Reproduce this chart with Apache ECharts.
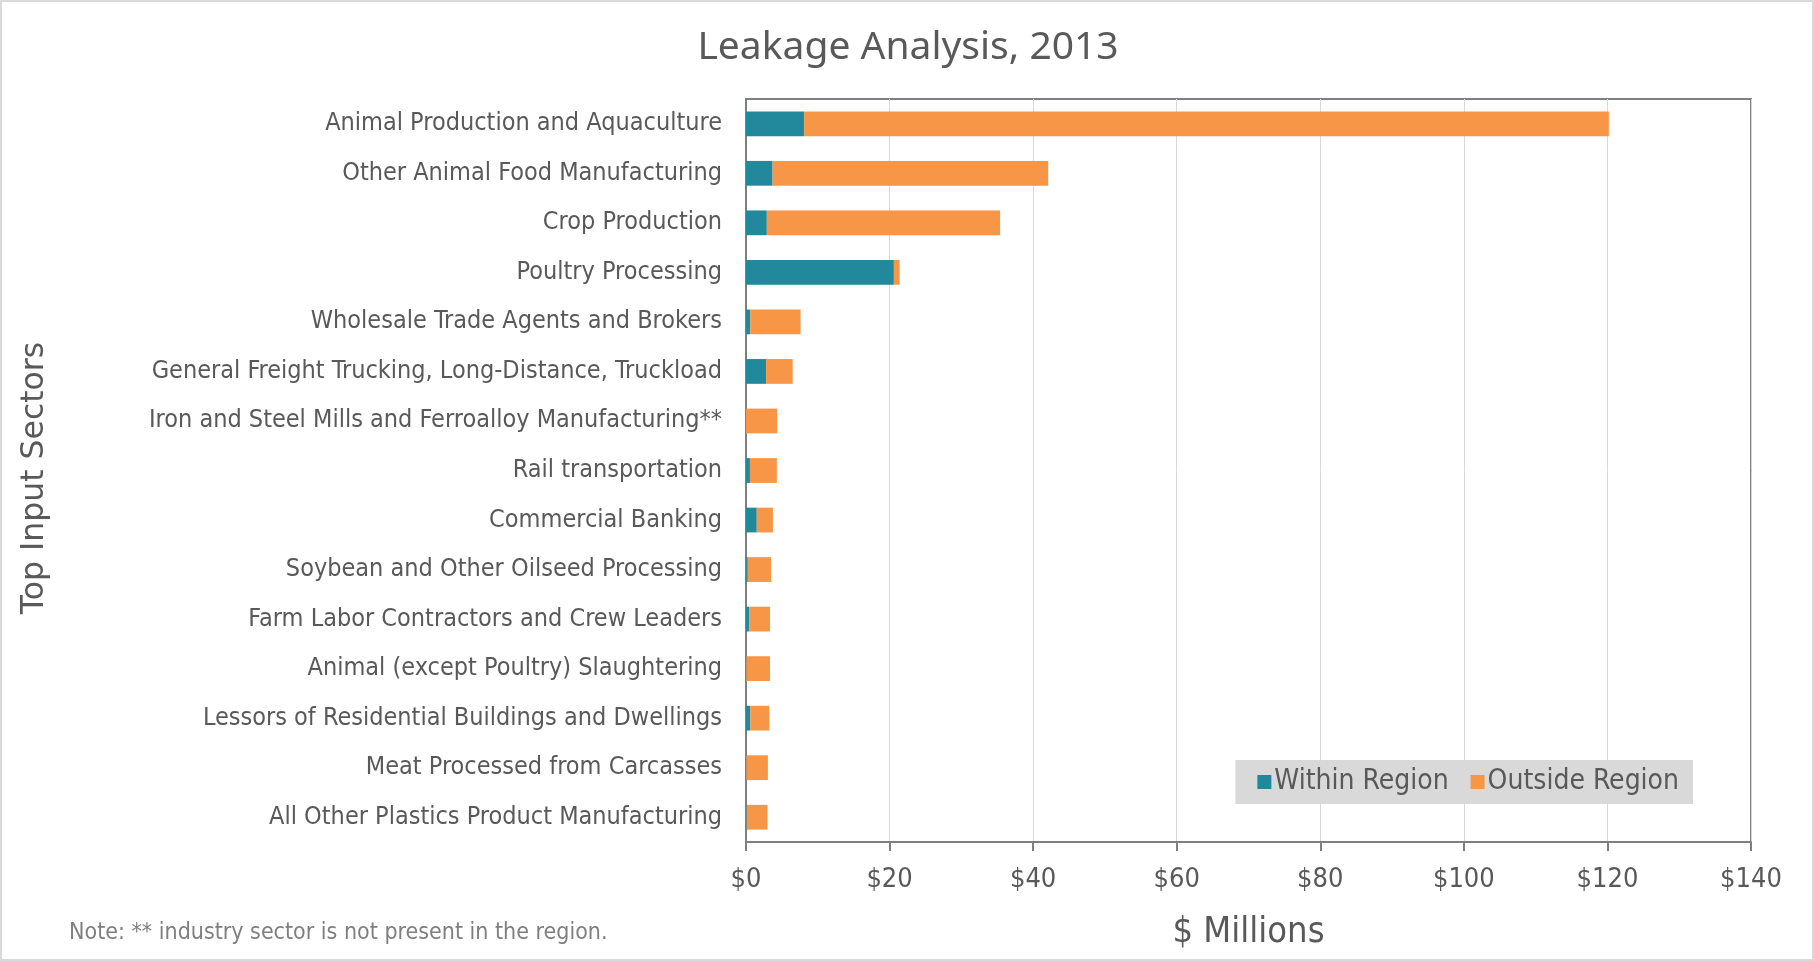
<!DOCTYPE html>
<html>
<head>
<meta charset="utf-8">
<script src="https://cdn.jsdelivr.net/npm/echarts@6/dist/echarts.min.js"></script>
<style>
  html, body { margin: 0; padding: 0; background: #fff; }
  #chart { width: 1814px; height: 961px; }
</style>
</head>
<body>
<div id="chart"></div>
<script>
var sectors = [
    'Animal Production and Aquaculture',
    'Other Animal Food Manufacturing',
    'Crop Production',
    'Poultry Processing',
    'Wholesale Trade Agents and Brokers',
    'General Freight Trucking, Long-Distance, Truckload',
    'Iron and Steel Mills and Ferroalloy Manufacturing**',
    'Rail transportation',
    'Commercial Banking',
    'Soybean and Other Oilseed Processing',
    'Farm Labor Contractors and Crew Leaders',
    'Animal (except Poultry) Slaughtering',
    'Lessors of Residential Buildings and Dwellings',
    'Meat Processed from Carcasses',
    'All Other Plastics Product Manufacturing'
];
var withinRegion = [8.1, 3.7, 2.9, 20.6, 0.6, 2.8, 0, 0.55, 1.5, 0.25, 0.45, 0.05, 0.6, 0.05, 0.1];
var outsideRegion = [112.1, 38.4, 32.5, 0.8, 7.0, 3.7, 4.35, 3.75, 2.25, 3.25, 2.9, 3.3, 2.65, 3.0, 2.9];

var labelFont = '"Liberation Sans Narrow", "DejaVu Sans Condensed", sans-serif';

var option = {
    animation: false,
    title: {
        text: 'Leakage Analysis, 2013',
        left: 903,
        textAlign: 'center',
        top: 23,
        textStyle: { fontFamily: '"Noto Sans", sans-serif', fontWeight: 'normal', fontSize: 39, color: '#595959' }
    },
    legend: {
        right: 121,
        top: 760,
        itemWidth: 14,
        itemHeight: 14,
        itemGap: 22,
        padding: [8, 14, 8, 22],
        backgroundColor: '#d9d9d9',
        icon: 'rect',
        textStyle: { fontFamily: labelFont, fontSize: 28, color: '#595959', padding: [0, 0, 0, -2] },
        data: ['Within Region', 'Outside Region']
    },
    grid: {
        left: 746,
        right: 63,
        top: 99,
        bottom: 119,
        show: true,
        borderColor: '#7f7f7f',
        borderWidth: 2
    },
    xAxis: {
        type: 'value',
        min: 0,
        max: 140,
        interval: 20,
        name: '$ Millions',
        nameLocation: 'middle',
        nameGap: 73,
        nameTextStyle: { fontFamily: labelFont, fontSize: 36, color: '#595959' },
        axisLine: { show: true, lineStyle: { color: '#7f7f7f', width: 2 } },
        axisTick: { show: true, length: 9, lineStyle: { color: '#7f7f7f', width: 2 } },
        splitLine: { lineStyle: { color: '#d9d9d9', width: 1 } },
        axisLabel: {
            fontFamily: labelFont, fontSize: 27, color: '#595959', margin: 24,
            formatter: function (v) { return '$' + v; }
        }
    },
    yAxis: {
        type: 'category',
        inverse: true,
        data: sectors,
        axisLine: { show: true, lineStyle: { color: '#7f7f7f', width: 2 } },
        axisTick: { show: false },
        axisLabel: { fontFamily: labelFont, fontSize: 25, color: '#595959', margin: 24 }
    },
    series: [
        {
            name: 'Within Region',
            type: 'bar',
            stack: 'total',
            barCategoryGap: '50%',
            data: withinRegion,
            itemStyle: { color: '#21899b' }
        },
        {
            name: 'Outside Region',
            type: 'bar',
            stack: 'total',
            data: outsideRegion,
            itemStyle: { color: '#f79646' }
        }
    ],
    graphic: [
        {
            type: 'rect',
            shape: { x: 1, y: 1, width: 1812, height: 959 },
            style: { fill: 'none', stroke: '#d9d9d9', lineWidth: 2 },
            silent: true
        },
        {
            type: 'text',
            x: 35,
            y: 478,
            rotation: Math.PI / 2,
            style: {
                text: 'Top Input Sectors',
                font: '31.5px "DejaVu Sans", sans-serif',
                fill: '#595959',
                align: 'center',
                verticalAlign: 'middle'
            }
        },
        {
            type: 'text',
            left: 69,
            top: 922,
            style: {
                text: 'Note: ** industry sector is not present in the region.',
                font: '23px ' + labelFont,
                fill: '#7f7f7f'
            }
        }
    ]
};

var myChart = echarts.init(document.getElementById('chart'));
myChart.setOption(option);
</script>
</body>
</html>
